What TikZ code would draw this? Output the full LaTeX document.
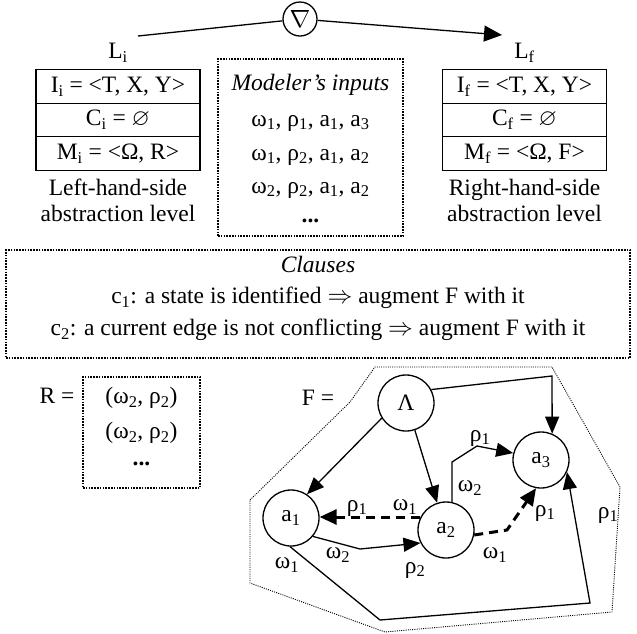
\documentclass[tikz,border=0pt]{standalone}
\usepackage{fontspec}
\usepackage{amssymb}
\setmainfont{Liberation Serif}
\usetikzlibrary{arrows.meta,calc}
\newcommand\subx[1]{\textsubscript{#1}}
\begin{document}
\begin{tikzpicture}[x=1pt,y=-1pt,
  every node/.style={font=\fontsize{23.5}{26}\selectfont, inner sep=0pt},
  cell/.style={draw, line width=1.4pt, minimum width=164pt, minimum height=33.5pt},
  dotbox/.style={draw, line width=2pt, dash pattern=on 1.6pt off 1.2pt},
  state/.style={draw, circle, line width=1.3pt, minimum size=56pt},
  edge/.style={line width=1.3pt, -{Triangle[length=17pt,width=14pt]}},
  topedge/.style={line width=1.3pt, -{Triangle[length=18pt,width=16pt]}},
  dedge/.style={line width=3pt, dash pattern=on 9pt off 6pt, -{Triangle[length=17pt,width=15pt]}},
  poly/.style={line width=0.9pt, dash pattern=on 1pt off 1.2pt}
]
\useasboundingbox (0,0) rectangle (637,633);

% top transformation
\node[circle, draw, line width=1.3pt, minimum size=34pt] (nab) at (300,19) {\fontsize{26}{26}\selectfont$\nabla$};
\coordinate (ls) at (138,36);
\coordinate (le) at (502,35);
\draw[line width=1.3pt] (ls) -- (nab);
\draw[topedge] (nab) -- (le);

% left level
\node (Li) at (118,53) {L\subx{i}};
\node[cell] (Ii) at (118,86.5) {I\subx{i} = <T, X, Y>};
\node[cell] (Ci) at (118,120) {C\subx{i} = $\varnothing$};
\node[cell] (Mi) at (118,153.5) {M\subx{i} = <Ω, R>};
\node[align=center] (lh) at (118,200) {Left-hand-side\\abstraction level};

% right level
\node (Lf) at (524.5,53) {L\subx{f}};
\node[cell] (If) at (524.5,86.5) {I\subx{f} = <T, X, Y>};
\node[cell] (Cf) at (524.5,120) {C\subx{f} = $\varnothing$};
\node[cell] (Mf) at (524.5,153.5) {M\subx{f} = <Ω, F>};
\node[align=center] (rh) at (524.5,200) {Right-hand-side\\abstraction level};

% modeler's inputs
\node[dotbox, minimum width=185pt, minimum height=177pt] (mb) at (310.5,147.5) {};
\node (mt) at (310.5,85) {\itshape Modeler’s inputs};
\node (m1) at (310.5,123) {ω\subx{1}, ρ\subx{1}, a\subx{1}, a\subx{3}};
\node (m2) at (310.5,157) {ω\subx{1}, ρ\subx{2}, a\subx{1}, a\subx{2}};
\node (m3) at (310.5,190) {ω\subx{2}, ρ\subx{2}, a\subx{1}, a\subx{2}};
\node (m4) at (310.5,221) {\textbf{...}};

% clauses
\node[dotbox, minimum width=624pt, minimum height=108pt] (cb) at (318,304) {};
\node (ct) at (318,264) {\itshape Clauses};
\node (c1) at (318,298) {c\subx{1}: a state is identified $\Rightarrow$ augment F with it};
\node (c2) at (318,330) {c\subx{2}: a current edge is not conflicting $\Rightarrow$ augment F with it};

% R
\node (Req) at (57,396) {R =};
\node[dotbox, minimum width=117pt, minimum height=111pt] (rb) at (141.5,432.5) {};
\node (r1) at (141.5,398) {(ω\subx{2}, ρ\subx{2})};
\node (r2) at (141.5,433) {(ω\subx{2}, ρ\subx{2})};
\node (r3) at (141.5,464) {\textbf{...}};

% F
\node (Feq) at (318,398) {F =};
\draw[poly] (250,500) -- (350,402) -- (375,367) -- (552,367) -- (620,487)
  -- (612,612) -- (385,632) -- (250,583) -- cycle;

\node[state] (L) at (406,403) {Λ};
\node[state] (a1) at (291,518) {a\subx{1}};
\node[state] (a2) at (446,530) {a\subx{2}};
\node[state] (a3) at (541,460) {a\subx{3}};

\coordinate (c3) at (552,376);
\draw[edge] (L.28) -- (c3) -- (a3.67);
\draw[edge] (L.212) -- (a1.56);
\draw[edge] (L.-72) -- (a2.108);

\coordinate (k1) at (452,462);
\coordinate (k2) at (477,446);
\draw[edge] (a2.78) -- (k1) -- (k2) -- (a3.166);

\draw[dedge] (a2.153) -- (a1.east |- a2.153);

\coordinate (k3) at (360,549);
\draw[edge] (a1.-40) -- (k3) -- (a2.207);

\coordinate (k4) at (507,530);
\draw[dedge] (a2.-10) -- (k4) -- (a3.-100);

\coordinate (k5) at (380,620);
\coordinate (k6) at (590,603);
\draw[edge] (a1.-92) -- (k5) -- (k6) -- (a3.-25);

% edge labels
\node (l1) at (480,438) {ρ\subx{1}};
\node (l2) at (470,488) {ω\subx{2}};
\node (l3) at (357,508) {ρ\subx{1}};
\node (l4) at (405,507) {ω\subx{1}};
\node (l5) at (338,555) {ω\subx{2}};
\node (l6) at (415,570) {ρ\subx{2}};
\node (l7) at (495,555) {ω\subx{1}};
\node (l8) at (545,513) {ρ\subx{1}};
\node (l9) at (287,565) {ω\subx{1}};
\node (l10) at (608,515) {ρ\subx{1}};
\end{tikzpicture}
\end{document}
